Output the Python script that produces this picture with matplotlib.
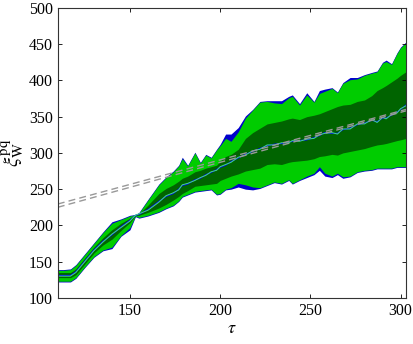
import matplotlib
matplotlib.use("Agg")
import matplotlib.pyplot as plt

plt.rcParams["font.family"] = ["Liberation Serif", "DejaVu Serif"]
plt.rcParams["mathtext.fontset"] = "stix"

# tau grid
tau = [110, 113, 117, 120, 125, 130, 135, 140, 145, 150, 153,
       155, 160, 166, 170, 174, 177, 179, 182, 186, 189, 192, 195, 198, 200, 203, 206, 210,
       214, 218, 222, 226, 230, 234, 238, 240, 244, 248, 252, 255, 258, 262, 265, 268,
       272, 276, 280, 284, 287, 290, 292, 295, 298, 300, 303]

# outer band (light green)
outer_top = [138, 138, 139, 145, 160, 175, 190, 203, 208, 213, 215,
             217, 235, 256, 266, 274, 282, 292, 282, 300, 286, 297, 293, 304, 310, 320, 316, 329,
             348, 359, 370, 371, 369, 368, 376, 378, 366, 380, 370, 382, 385, 389, 383, 396,
             401, 402, 407, 410, 412, 424, 426, 422, 437, 445, 452]
outer_bot = [123, 123, 123, 128, 143, 157, 166, 170, 186, 197, 213,
             211, 214, 219, 224, 228, 234, 240, 243, 247, 248, 249, 250, 243, 244, 250, 252, 258,
             256, 253, 252, 256, 260, 258, 263, 258, 263, 268, 272, 281, 272, 268, 272, 267,
             268, 274, 276, 277, 279, 279, 279, 279, 281, 281, 281]

# blue band, slightly wider than the light green one in places
blue_top = [139, 139, 140, 146, 161, 176, 191, 205, 209, 214, 215,
            218, 236, 257, 267, 275, 283, 294, 283, 301, 287, 298, 294, 305, 312, 326, 326, 335,
            351, 360, 371, 372, 372, 372, 378, 380, 368, 383, 371, 386, 388, 390, 384, 397,
            404, 404, 408, 411, 413, 425, 428, 423, 438, 446, 453]
blue_bot = [122, 122, 122, 127, 142, 156, 165, 168, 185, 194, 212,
            210, 213, 218, 223, 227, 233, 239, 242, 246, 247, 248, 249, 242, 243, 249, 250, 253,
            250, 249, 251, 255, 259, 257, 262, 257, 262, 266, 270, 276, 268, 266, 270, 265,
            267, 273, 275, 276, 278, 278, 278, 278, 280, 280, 280]

# inner band (dark green)
inner_top = [135, 135, 135, 140, 155, 170, 183, 194, 203, 210, 214.5,
             216, 228, 244, 251, 256, 261, 265, 268, 274, 276, 279, 281, 283, 289, 295, 298, 305,
             320, 328, 334, 340, 342, 344, 347, 348, 346, 350, 352, 354, 357, 361, 364, 366,
             367, 371, 373, 379, 386, 390, 393, 398, 403, 407, 412]
inner_bot = [128, 128, 128, 132, 147, 162, 173, 181, 193, 204, 213.5,
             214, 218, 224, 229, 235, 240, 244, 248, 254, 255, 256, 257, 258, 262, 265, 268, 271,
             275, 277, 279, 284, 285, 284, 287, 288, 289, 290, 292, 295, 296, 298, 297, 300,
             302, 304, 306, 309, 311, 312, 313, 315, 317, 318, 320]

# medians
median_a = [131, 131, 131, 136, 151, 166, 178, 187, 198, 207, 214,
            215, 222, 233, 240, 244, 250, 255, 257, 263, 265, 270, 273, 277, 280, 283, 288, 293,
            298, 302, 306, 310, 312, 313, 315, 316, 317, 318, 321, 324, 328, 327, 327, 332,
            334, 339, 341, 345, 343, 348, 348, 352, 356, 360, 366]
median_b = [130, 130, 130, 135, 150, 165, 177, 188, 197, 206, 214,
            216, 221, 232, 241, 245, 249, 256, 258, 262, 266, 269, 274, 276, 281, 284, 287, 294,
            297, 303, 305, 311, 311, 314, 314, 317, 316, 319, 320, 325, 327, 328, 326, 333,
            333, 340, 340, 346, 342, 349, 347, 353, 355, 361, 365]

# linear fits (dashed)
fit_tau = [110, 303]
fit_a = [229.5, 360]
fit_b = [225.0, 358]

fig = plt.figure(figsize=(4.13, 3.44), dpi=100)
ax = fig.add_axes([0.140, 0.134, 0.843, 0.843])

ax.fill_between(tau, blue_bot, blue_top, color="#0000cc", lw=0)
ax.fill_between(tau, outer_bot, outer_top, color="#00cc00", lw=0)
ax.fill_between(tau, inner_bot, inner_top, color="#006400", lw=0)
ax.plot(tau, median_a, color="#0000ff", lw=0.8)
ax.plot(tau, median_b, color="#44dd88", lw=0.7)
ax.plot(fit_tau, fit_a, color="#999999", lw=1.0, ls=(0, (5, 3)))
ax.plot(fit_tau, fit_b, color="#999999", lw=1.0, ls=(0, (5, 3)))

ax.set_xlim(110, 303)
ax.set_ylim(100, 500)
ax.set_xticks([150, 200, 250, 300])
ax.set_yticks(range(100, 501, 50))
ax.tick_params(direction="in", top=True, right=True, labelsize=11.5, length=3, width=0.6)
for s in ax.spines.values():
    s.set_color("#333333")
    s.set_linewidth(0.8)

ax.set_xlabel(r"$\tau$", fontsize=13, labelpad=1)
ax.set_ylabel(r"$\xi_{\mathrm{W}}^{\mathrm{pq}}$", fontsize=15, labelpad=2)

fig.savefig("out.png", dpi=100)
